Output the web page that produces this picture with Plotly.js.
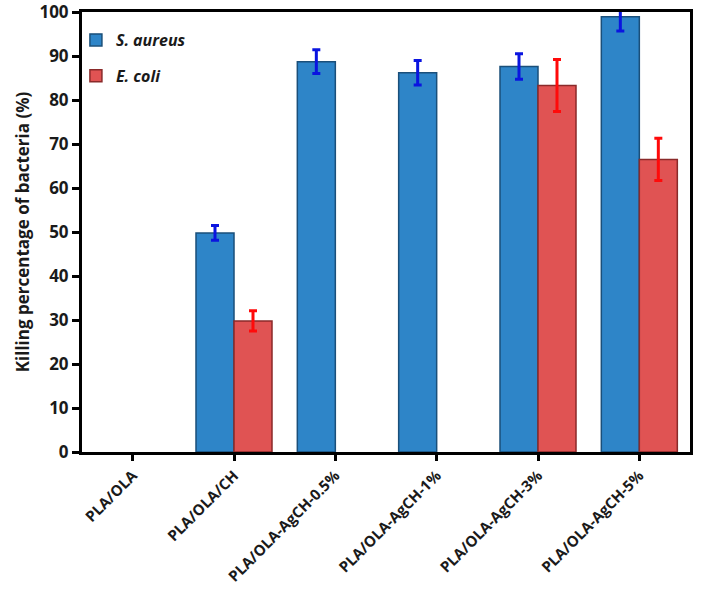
<!DOCTYPE html>
<html>
<head>
<meta charset="utf-8">
<script src="https://cdn.plot.ly/plotly-3.0.1.min.js"></script>
<style>html,body{margin:0;padding:0;background:#fff;}#chart{width:703px;height:590px;}</style>
</head>
<body>
<div id="chart"></div>
<script>
var categories = ["PLA/OLA", "PLA/OLA/CH", "PLA/OLA-AgCH-0.5%", "PLA/OLA-AgCH-1%", "PLA/OLA-AgCH-3%", "PLA/OLA-AgCH-5%"];
var saureus = [0, 49.8, 88.7, 86.2, 87.6, 98.9];
var saureusErr = [0, 1.7, 2.7, 2.8, 2.9, 3.2];
var ecoli = [0, 29.8, 0, 0, 83.3, 66.5];
var ecoliErr = [0, 2.3, 0, 0, 5.9, 4.8];
var yTicks = [0, 10, 20, 30, 40, 50, 60, 70, 80, 90, 100];

// a value of 0 means no bar was drawn for that sample
function shown(vals) {
  return vals.map(function (v) { return v > 0 ? v : null; });
}

var traces = [
  {
    type: "bar", name: "<b><i>S. aureus</i></b>", x: categories, y: shown(saureus), legendgroup: "a",
    marker: { color: "#2e85c8", line: { color: "#1a4f7a", width: 1.5 } },
    error_y: { type: "data", array: saureusErr, visible: true, color: "#0a14e0", thickness: 3, width: 4 }
  },
  {
    type: "bar", name: "<b><i>E. coli</i></b>", x: categories, y: shown(ecoli), legendgroup: "b",
    marker: { color: "#e05353", line: { color: "#8a2a2a", width: 1.5 } },
    error_y: { type: "data", array: ecoliErr, visible: true, color: "#ff0a0a", thickness: 3, width: 4 }
  }
];

var layout = {
  width: 703, height: 590,
  margin: { l: 82, r: 13, t: 12, b: 138 },
  paper_bgcolor: "#fff", plot_bgcolor: "#fff",
  barmode: "group", bargap: 0.25, bargroupgap: 0,
  font: { family: "Open Sans, Liberation Sans, sans-serif", color: "#1a1a1a" },
  showlegend: true,
  legend: {
    x: -0.01, y: 0.975, xanchor: "left", yanchor: "top",
    bgcolor: "rgba(0,0,0,0)", font: { size: 16, color: "#1a1a1a" },
    tracegroupgap: 12, itemwidth: 30
  },
  xaxis: {
    type: "category", tickangle: -45,
    range: [-0.5, 5.5],
    tickfont: { size: 15, color: "#1a1a1a", family: "Open Sans, sans-serif", weight: "bold" },
    showline: true, linecolor: "#000", linewidth: 3, mirror: true,
    ticks: "outside", ticklen: 6, tickwidth: 3, tickcolor: "#000",
    showgrid: false, zeroline: false
  },
  yaxis: {
    range: [0, 100], tickvals: yTicks,
    tickfont: { size: 17, color: "#1a1a1a", family: "Open Sans, sans-serif", weight: "bold" },
    ticklabeloverflow: "allow",
    showline: true, linecolor: "#000", linewidth: 3, mirror: true,
    ticks: "outside", ticklen: 7, tickwidth: 3, tickcolor: "#000",
    showgrid: false, zeroline: false,
    title: { text: "<b>Killing percentage of bacteria (%)</b>", font: { size: 17, color: "#1a1a1a" }, standoff: 6 }
  }
};

Plotly.newPlot("chart", traces, layout, { displayModeBar: false, staticPlot: true });
</script>
</body>
</html>
